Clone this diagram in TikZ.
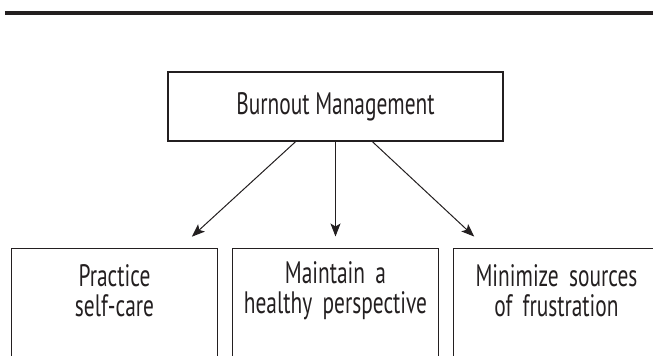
\documentclass[tikz,border=0pt]{standalone}
\usepackage{fontspec}
\setmainfont{PT Sans}[FakeStretch=0.69]
\usetikzlibrary{arrows.meta}
\definecolor{ink}{HTML}{231F20}
\begin{document}
\begin{tikzpicture}[-{Stealth[length=6.5pt,width=5pt,inset=1.5pt]},line width=0.5pt,
            node distance=92pt,draw=ink,text=ink,
            top node/.style={rectangle,draw,line width=0.75pt,minimum width=167.5pt,minimum height=34.5pt,
                inner sep=0pt,font=\fontsize{15.5pt}{14.75pt}\selectfont},
            leaf node/.style={rectangle,minimum width=102.5pt,minimum height=41.5pt,inner sep=0pt,
                text width=100pt,align=center,font=\fontsize{15.5pt}{14.75pt}\selectfont}]

        % Page frame and rule
        \useasboundingbox (-167.75pt,-124.25pt) rectangle (158.75pt,53.25pt);
        \clip (-167.75pt,-124.25pt) rectangle (158.75pt,53.25pt);
        \draw[-,line width=2pt] (-165.25pt,46.75pt) -- (160pt,46.75pt);

        % Define vertices
        \node[top node] (burnout) {Burnout Management};
        \node[leaf node] (perspective) [below of=burnout] {Maintain a\\healthy perspective};
        \node[leaf node] (selfcare) [left of=perspective,node distance=110.5pt] {Practice\\self-care};
        \node[leaf node] (frustration) [right of=perspective,node distance=110.5pt] {Minimize sources\\of frustration};

        % Open boxes, cut by the page edge
        \foreach \n in {selfcare,perspective,frustration}
            \draw[-,line width=0.75pt] ([yshift=-30pt]\n.south west) -- (\n.north west)
                -- (\n.north east) -- ([yshift=-30pt]\n.south east);

        % Draw edges
        \path
            ([xshift=-20pt]burnout.south) edge[shorten >=8.75pt] ([xshift=32.25pt]selfcare.north)
            (burnout.south) edge[shorten >=6pt] (burnout.south |- perspective.north)
            ([xshift=18.5pt]burnout.south) edge[shorten >=8.75pt] ([xshift=-34.75pt]frustration.north);

\end{tikzpicture}
\end{document}
